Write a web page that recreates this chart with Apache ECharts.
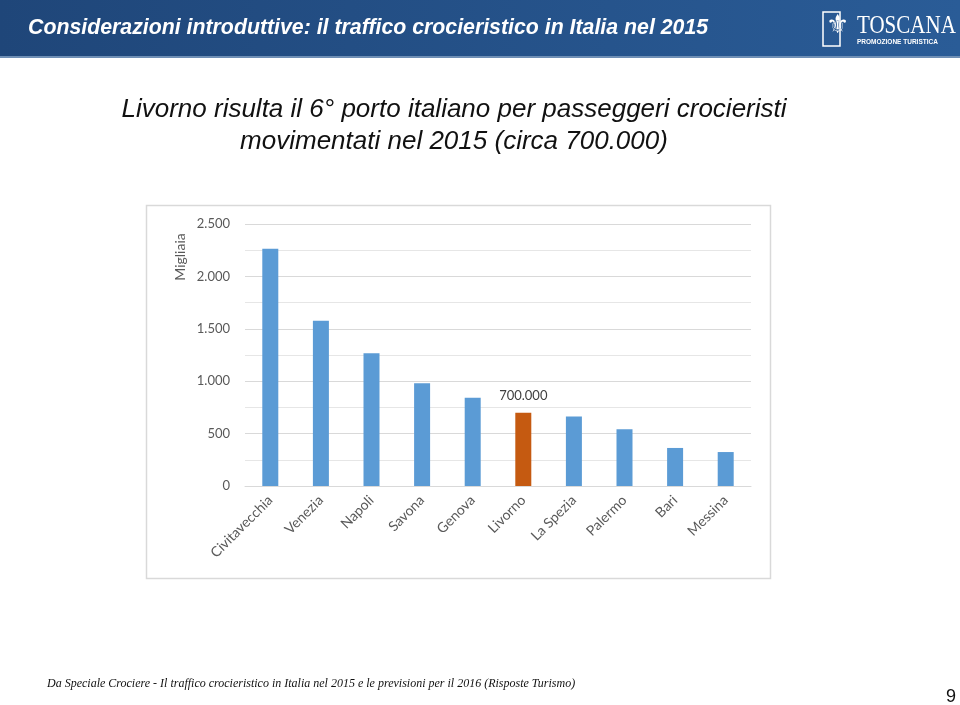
<!DOCTYPE html>
<html><head><meta charset="utf-8">
<script src="https://cdn.jsdelivr.net/npm/echarts@6/dist/echarts.min.js"></script>
<style>html,body{margin:0;padding:0;background:#fff}#c{width:960px;height:705px}</style>
</head><body><div id="c"></div>
<script>
var categories = ['Civitavecchia','Venezia','Napoli','Savona','Genova','Livorno','La Spezia','Palermo','Bari','Messina'];
var passengers = [2264, 1577, 1266, 980, 843, 700, 662, 541, 363, 324]; // migliaia
var highlightIndex = 5;
var yTicks = [0, 500, 1000, 1500, 2000, 2500];

function fmt(v){ return String(Math.round(v)).replace(/\B(?=(\d{3})+(?!\d))/g, '.'); }

var chart = echarts.init(document.getElementById('c'), null, {renderer:'canvas'});
var data = passengers.map(function(v,i){
  if(i===highlightIndex){
    return {value:v, itemStyle:{color:'#c55a11'}, label:{show:true, position:'top', distance:10, color:'#404040', fontSize:13, fontFamily:'Lato', formatter:function(p){return fmt(p.value*1000);}}};
  }
  return v;
});
chart.setOption({
  animation:false,
  grid:{left:245, right:209, top:224, bottom:219, containLabel:false},
  graphic:[
    {type:'rect', shape:{x:0,y:0,width:960,height:57}, style:{fill:new echarts.graphic.LinearGradient(0,0,1,0,[{offset:0,color:'#1f4679'},{offset:1,color:'#2a5c97'}])}, z:-1},
    {type:'rect', shape:{x:0,y:56,width:960,height:2}, style:{fill:'#6f8fb5'}, z:-1},
    {type:'text', x:28, y:28, style:{text:'Considerazioni introduttive: il traffico crocieristico in Italia nel 2015', fill:'#fff', font:'italic bold 21.3px "Liberation Sans", Arial', textVerticalAlign:'middle'}},
    {type:'rect', shape:{x:823,y:12,width:17,height:34}, style:{fill:'none', stroke:'#fff', lineWidth:1.5}},
    {type:'text', left:826, top:13, style:{text:'⚜', fill:'#fff', font:'26px "DejaVu Sans"'}},
    {type:'text', x:857, y:14, scaleY:1.2, style:{text:'TOSCANA', fill:'#fff', font:'21px "Liberation Serif"'}},
    {type:'text', left:857, top:39, style:{text:'PROMOZIONE TURISTICA', fill:'#fff', font:'bold 6.5px "Liberation Sans"'}},
    {type:'text', x:454, y:110, style:{text:'Livorno risulta il 6° porto italiano per passeggeri crocieristi', fill:'#111', font:'italic 26px "Liberation Sans", Arial', textAlign:'center', textVerticalAlign:'middle'}},
    {type:'text', x:454, y:142, style:{text:'movimentati nel 2015 (circa 700.000)', fill:'#111', font:'italic 26px "Liberation Sans", Arial', textAlign:'center', textVerticalAlign:'middle'}},
    {type:'text', x:180, y:257, rotation:Math.PI/2, style:{text:'Migliaia', fill:'#595959', font:'14px Lato', textAlign:'center', textVerticalAlign:'middle'}},
    {type:'rect', shape:{x:146.5,y:205.5,width:624,height:373}, style:{fill:'none', stroke:'#d9d9d9', lineWidth:1.5}, z:-1},
    {type:'text', left:47, top:678, style:{text:'Da Speciale Crociere - Il traffico crocieristico in Italia nel 2015 e le previsioni per il 2016 (Risposte Turismo)', fill:'#111', font:'italic 12px "Liberation Serif", Times'}},
    {type:'text', left:946, top:688, style:{text:'9', fill:'#111', font:'18px "Liberation Sans", Arial'}}
  ],
  xAxis:{type:'category', data:categories,
    axisLine:{lineStyle:{color:'#d9d9d9'}}, axisTick:{show:false},
    axisLabel:{rotate:45, color:'#595959', fontSize:14, fontFamily:'Lato', margin:12, interval:0}},
  yAxis:{type:'value', min:yTicks[0], max:yTicks[yTicks.length-1], interval:500,
    axisLine:{show:false}, axisTick:{show:false},
    axisLabel:{color:'#595959', fontSize:13, fontFamily:'Lato', margin:15, formatter:function(v){return fmt(v);}},
    splitLine:{lineStyle:{color:'#d9d9d9', width:1}},
    minorTick:{show:false, splitNumber:2},
    minorSplitLine:{show:true, lineStyle:{color:'#e6e6e6', width:1}}},
  series:[{type:'bar', data:data, barWidth:16, itemStyle:{color:'#5b9bd5'}}]
});
</script></body></html>
